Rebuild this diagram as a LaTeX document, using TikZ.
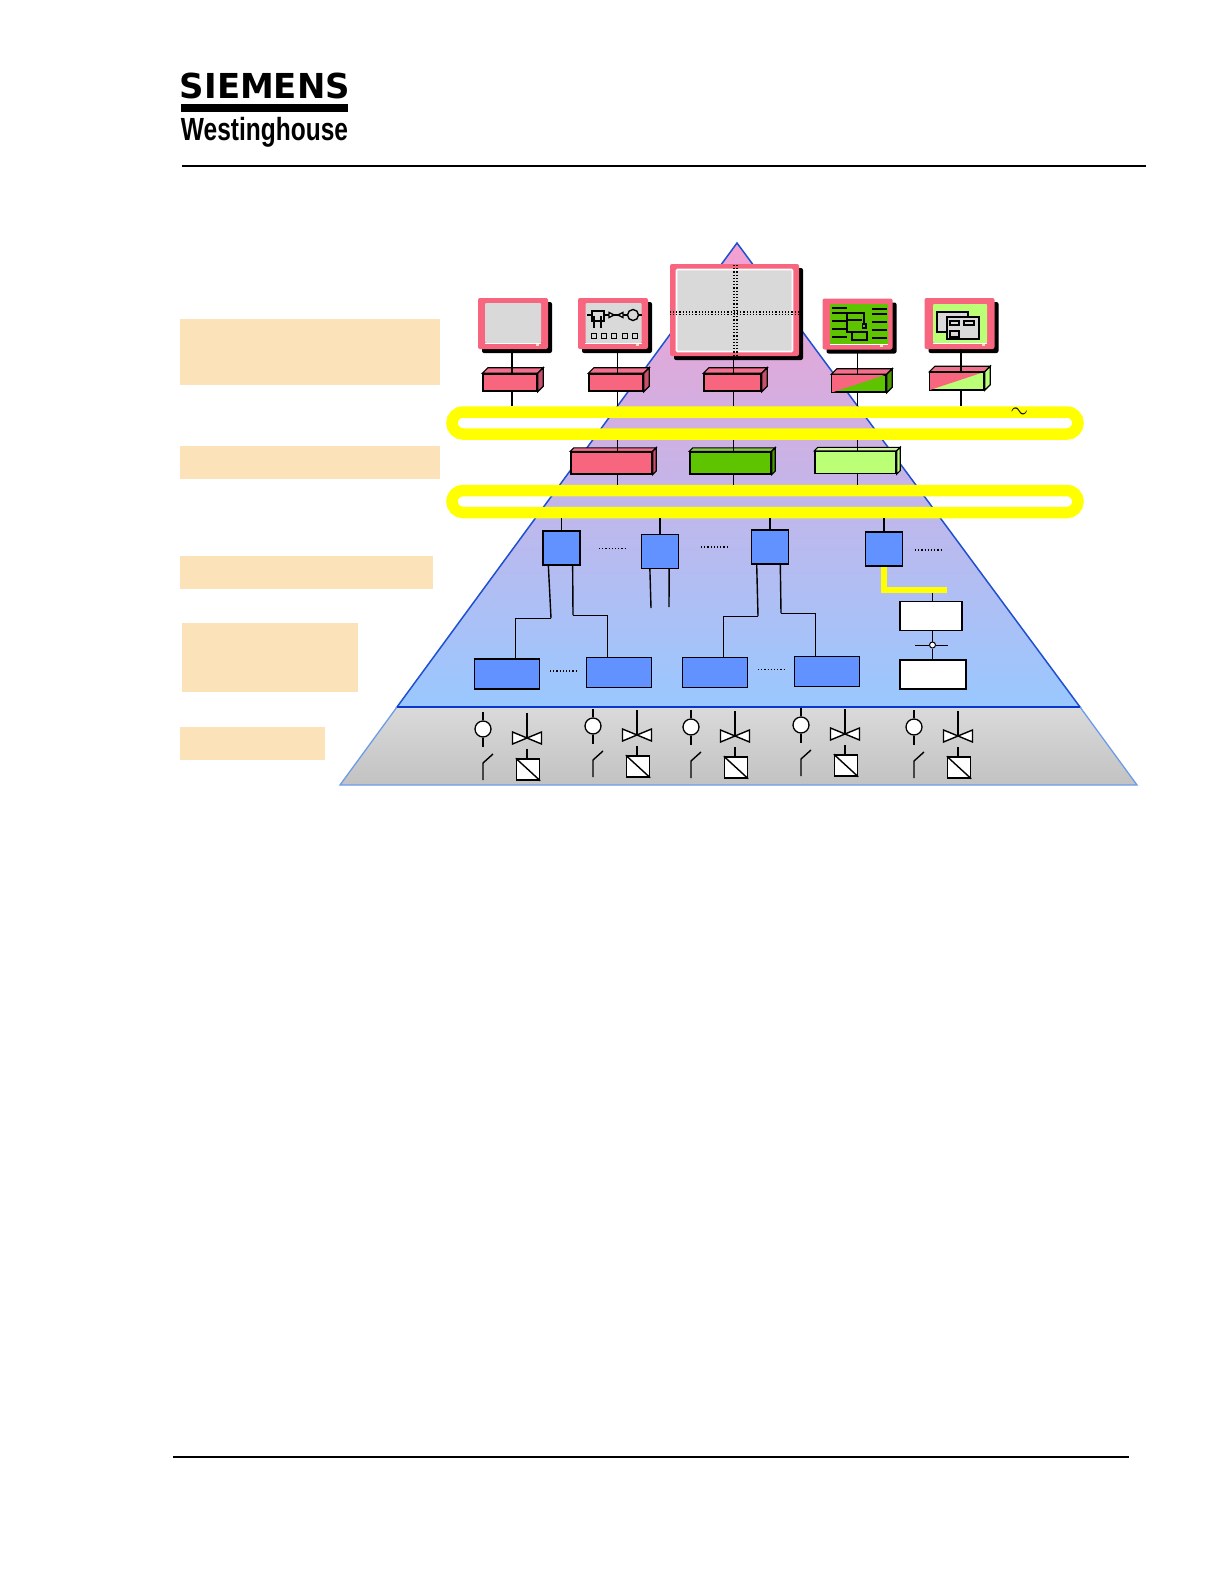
\documentclass[tikz,border=0pt]{standalone}
\usepackage{fontspec}
\setmainfont{Liberation Sans}
\newfontfamily\logofont{DejaVu Sans}
\usetikzlibrary{shadows}
\definecolor{ScreenPink}{HTML}{F8657F}
\definecolor{PinkTop}{HTML}{F2708C}
\definecolor{PinkSide}{HTML}{C8506A}
\definecolor{ScreenGray}{HTML}{D9D9D9}
\definecolor{FieldBlue}{HTML}{6192FF}
\definecolor{DarkGreen}{HTML}{5FC400}
\definecolor{GreenTop}{HTML}{86C848}
\definecolor{GreenSide}{HTML}{4A9A00}
\definecolor{PaleGreen}{HTML}{BBFF77}
\definecolor{PaleTop}{HTML}{CDF5A0}
\definecolor{Beige}{HTML}{FBE2B9}
\definecolor{BusYellow}{HTML}{FFFF00}
\definecolor{EdgeBlue}{HTML}{1F50D0}
\definecolor{BaseBlue}{HTML}{0A36CC}
\definecolor{LowEdge}{HTML}{6C9BEA}
\definecolor{PyrTop}{HTML}{F4A0D0}
\definecolor{PyrMiddle}{HTML}{C8B0E2}
\definecolor{PyrBottom}{HTML}{99C8FF}
\definecolor{LowTop}{HTML}{DADADA}
\definecolor{LowBottom}{HTML}{C2C2C2}
\tikzset{
  wire/.style={draw=black, line width=1.2pt},
  beigebox/.style={fill=Beige, inner sep=0pt, minimum width=260, minimum height=33},
  monitor/.style={fill=ScreenPink, rounded corners=2pt, inner sep=0pt, minimum width=70, minimum height=51, drop shadow={shadow xshift=4pt, shadow yshift=-4pt, fill=black, opacity=1}},
  screen/.style={fill=ScreenGray, rounded corners=1pt, inner sep=0pt, minimum width=56, minimum height=40},
  led/.style={fill=Beige, inner sep=0pt, minimum width=3, minimum height=2},
  cube/.style={draw=black, line width=1.4pt, fill=ScreenPink, inner sep=0pt, minimum width=54, minimum height=17},
  midcube/.style={draw=black, line width=1.4pt, inner sep=0pt, minimum width=81, minimum height=22},
  bluebox/.style={draw=black, line width=1.3pt, fill=FieldBlue, inner sep=0pt, minimum width=37, minimum height=34},
  lowbox/.style={draw=black, line width=1.2pt, fill=FieldBlue, inner sep=0pt, minimum width=65, minimum height=30},
  whitebox/.style={draw=black, line width=1.6pt, fill=white, inner sep=0pt, minimum height=29},
  busring/.style={draw=BusYellow, line width=11.5pt, rounded corners=11pt, inner sep=0pt, minimum width=626, minimum height=22},
  sensor/.style={circle, draw=black, line width=1.3pt, fill=white, inner sep=0pt, minimum size=16},
  actuator/.style={draw=black, line width=1.5pt, fill=white, inner sep=0pt, minimum width=23, minimum height=21},
  symbol/.style={draw=black, line width=1.4pt},
  dots/.style={draw=black, line width=1.2pt, dotted}
}
\begin{document}
\begin{tikzpicture}[x=1pt, y=-1pt]
\useasboundingbox (0,0) rectangle (1224,1584);

\node[inner sep=0pt] (siemens) at (265,85.5) {\resizebox*{170pt}{26pt}{\logofont\bfseries SIEMENS}};
\node[fill=black, inner sep=0pt, minimum width=167, minimum height=8] (logobar) at (264.5,108) {};
\node[inner sep=0pt] (westing) at (264.5,132) {\resizebox*{167pt}{30pt}{\bfseries Westinghouse}};
\draw[line width=1.6pt] (182,166) -- (1146,166);
\draw[line width=1.6pt] (173,1457) -- (1129,1457);

\node[beigebox, minimum height=66] (lev1) at (310,352) {};
\node[beigebox] (lev2) at (310,462) {};
\node[beigebox, minimum width=253] (lev3) at (306.5,572.5) {};
\node[beigebox, minimum width=176, minimum height=69] (lev4) at (270,657.5) {};
\node[beigebox, minimum width=145] (lev5) at (252.5,743) {};

\shade[top color=PyrTop, middle color=PyrMiddle, bottom color=PyrBottom, draw=EdgeBlue, line width=1.5pt] (737,243) -- (1080,707) -- (397,707) -- cycle;
\shade[top color=LowTop, bottom color=LowBottom, draw=LowEdge, line width=1.3pt] (397,707) -- (1080,707) -- (1137,785) -- (340,785) -- cycle;
\draw[draw=BaseBlue, line width=2.8pt] (397,707) -- (1080,707);

\node[monitor] (mon1) at (513,323.5) {};
\node[screen] (scr1) at (513,323) {};
\node[monitor] (mon2) at (613,323.5) {};
\node[screen] (scr2) at (613.5,323) {};
\node[monitor, minimum width=129, minimum height=92] (mon3) at (734.5,310) {};
\node[screen, draw=white, line width=1.6pt, minimum width=116, minimum height=82] (scr3) at (734.5,310.5) {};
\node[monitor] (mon4) at (857.5,324) {};
\node[screen, fill=DarkGreen, minimum width=58, minimum height=40] (scr4) at (859,324) {};
\node[monitor] (mon5) at (959.5,323.5) {};
\node[screen, fill=PaleGreen, minimum width=54, minimum height=39] (scr5) at (960,323.5) {};
\foreach \i in {1,2,4,5}{
  \draw[draw=white, line width=0.9pt] (scr\i.south west) -- (scr\i.south east);
  \node[led] (led\i) at ([xshift=-11pt, yshift=4pt]mon\i.south east) {};
}

\draw[dots, line width=1.6pt] (734,265) -- (734,355);
\draw[dots, line width=1.6pt] (737,265) -- (737,355);
\draw[dots] ([yshift=-2pt]mon3.west) -- ([yshift=-2pt]mon3.east);
\draw[dots] ([yshift=-4.5pt]mon3.west) -- ([yshift=-4.5pt]mon3.east);

\draw[symbol] (587,315) -- (642,315);
\node[draw=black, line width=1.4pt, fill=ScreenGray, inner sep=0pt, minimum width=12, minimum height=10] (valvebox) at (598,316) {};
\draw[symbol] (594,316) -- (594,328);
\draw[symbol] (601,316) -- (601,328);
\draw[symbol, fill=white] (609,312.5) -- (614,315) -- (609,317.5) -- cycle;
\draw[symbol, fill=white] (623,312.5) -- (618,315) -- (623,317.5) -- cycle;
\node[circle, draw=black, line width=1.4pt, fill=ScreenGray, inner sep=0pt, minimum size=11] (pump) at (633,315) {};
\foreach \x in {594,604,614,625,635}{
  \draw[symbol, fill=ScreenGray] (\x-2.5,333.5) rectangle (\x+2.5,338.5);
}

\foreach \y in {308,313,321,329,337}{
  \draw[line width=1.3pt] (832,\y) -- (847,\y);
  \draw[line width=1.3pt] (872,\y+1) -- (887,\y+1);
}
\draw[line width=1.3pt] (847,313) -- (864,313) -- (864,323);
\draw[line width=1.8pt] (847,320) -- (862,320);
\draw[line width=1.3pt] (847,313) -- (847,332) -- (860,332);
\draw[line width=1.3pt] (852,332) rectangle (867,340);
\draw[line width=1.3pt, fill=DarkGreen] (862.5,324) rectangle (866,328);

\draw[line width=1.3pt, fill=ScreenGray] (937,312) rectangle (968,332);
\draw[line width=1.3pt, fill=ScreenGray] (947,317) rectangle (979,339);
\draw[line width=1.5pt] (950,321) rectangle (959,325);
\draw[line width=1.5pt] (964,321) rectangle (974,325);
\draw[line width=1.5pt] (950,331) rectangle (959,337);

\node[cube] (cub1) at (510,382.5) {};
\node[cube] (cub2) at (616,382.5) {};
\node[cube, minimum width=57] (cub3) at (732.5,382.5) {};
\node[cube, fill=DarkGreen] (cub4) at (859,383.5) {};
\node[cube, fill=PaleGreen] (cub5) at (957,381) {};
\fill[ScreenPink] (cub4.north east) -- (cub4.north west) -- (cub4.south west) -- cycle;
\fill[ScreenPink] (cub5.north east) -- (cub5.north west) -- (cub5.south west) -- cycle;
\draw[line width=1.4pt] (cub4.south west) rectangle (cub4.north east);
\draw[line width=1.4pt] (cub5.south west) rectangle (cub5.north east);
\foreach \n/\top/\side in {cub1/PinkTop/PinkSide, cub2/PinkTop/PinkSide, cub3/PinkTop/PinkSide, cub4/PinkTop/GreenSide, cub5/PinkTop/PaleGreen}{
  \draw[line width=1.2pt, fill=\top] (\n.north west) -- ++(5.5,-5.5) -- ([shift={(5.5,-5.5)}]\n.north east) -- (\n.north east) -- cycle;
  \draw[line width=1.2pt, fill=\side] (\n.north east) -- ++(5.5,-5.5) -- ([shift={(5.5,-5.5)}]\n.south east) -- (\n.south east) -- cycle;
}

\node[midcube, fill=ScreenPink] (midA) at (611.5,463) {};
\node[midcube, fill=DarkGreen] (midB) at (730.5,463) {};
\node[midcube, fill=PaleGreen] (midC) at (855.5,462.5) {};
\foreach \n/\top/\side in {midA/PinkTop/PinkSide, midB/GreenTop/GreenSide, midC/PaleTop/PaleGreen}{
  \draw[line width=1.1pt, fill=\top] (\n.north west) -- ++(3.5,-3.5) -- ([shift={(3.5,-3.5)}]\n.north east) -- (\n.north east) -- cycle;
  \draw[line width=1.1pt, fill=\side] (\n.north east) -- ++(3.5,-3.5) -- ([shift={(3.5,-3.5)}]\n.south east) -- (\n.south east) -- cycle;
}

\node[busring] (ring1) at (765,423) {};
\node[busring] (ring2) at (765,501.5) {};
\node[inner sep=0pt, rotate=-15] (ac) at (1019,413) {\scalebox{2.2}{$\sim$}};

\foreach \i/\x in {1/512,2/617.5,3/733.5,4/857.5,5/961}{
  \coordinate (col\i) at (\x,0);
  \draw[wire] (col\i |- mon\i.south) -- (col\i |- cub\i.north);
  \draw[wire] (col\i |- cub\i.south) -- (col\i |- ring1.north);
}
\foreach \c/\n in {col2/midA,col3/midB,col4/midC}{
  \draw[wire] (\c |- ring1.south) -- (\c |- \n.north);
  \draw[wire] (\c |- \n.south) -- (\c |- ring2.north);
}

\node[bluebox] (ctl1) at (561.5,548) {};
\node[bluebox] (ctl2) at (660,551.5) {};
\node[bluebox, line width=1.6pt] (ctl3) at (770,547) {};
\node[bluebox] (ctl4) at (884,549) {};
\foreach \i in {1,2,3,4}{
  \draw[wire] (ctl\i.north) -- (ctl\i.north |- ring2.south);
}
\draw[dots, line width=0.9pt] (599,548) -- (626,548);
\draw[dots, line width=1.3pt] (701,547) -- (729,547);
\draw[dots] (915,550) -- (943,550);

\node[lowbox] (low1) at (507,674) {};
\node[lowbox, line width=1.6pt] (low2) at (619,672.5) {};
\node[lowbox, line width=1.6pt] (low3) at (715,672.5) {};
\node[lowbox] (low4) at (827,671.5) {};
\draw[dots] (550,671) -- (577,671);
\draw[dots, line width=0.9pt] (758,669) -- (785,669);

\coordinate (bendA) at (551,618);
\coordinate (dropA) at (515,618);
\coordinate (bendB) at (573,615);
\coordinate (dropB) at (607,615);
\coordinate (bendC) at (758,616);
\coordinate (dropC) at (723,616);
\coordinate (bendD) at (781,613);
\coordinate (dropD) at (815,613);
\coordinate (endE) at (651,608);
\coordinate (endF) at (669,607);
\draw[wire, line width=1.4pt] ([xshift=6pt]ctl1.south west) -- (bendA);
\draw[wire, line width=1pt] (bendA) -- (dropA) -- (dropA |- low1.north);
\draw[wire, line width=1.4pt] ([xshift=-8pt]ctl1.south east) -- (bendB);
\draw[wire, line width=1pt] (bendB) -- (dropB) -- (dropB |- low2.north);
\draw[wire, line width=1.4pt] ([xshift=6pt]ctl3.south west) -- (bendC);
\draw[wire, line width=1pt] (bendC) -- (dropC) -- (dropC |- low3.north);
\draw[wire, line width=1.4pt] ([xshift=-9pt]ctl3.south east) -- (bendD);
\draw[wire, line width=1pt] (bendD) -- (dropD) -- (dropD |- low4.north);
\draw[wire, line width=1.4pt] ([xshift=9pt, yshift=1pt]ctl2.south west) -- (endE);
\draw[wire, line width=1.4pt] ([xshift=-10pt, yshift=1pt]ctl2.south east) -- (endF);

\node[whitebox, minimum width=62] (opA) at (931,616) {};
\node[whitebox, minimum width=66] (opB) at (933,674.5) {};
\coordinate (feed) at (947,590);
\node[circle, draw=black, line width=1pt, fill=white, inner sep=0pt, minimum size=6] (joint) at (932.5,645) {};
\draw[wire] (joint |- feed) -- (joint |- opA.north);
\draw[wire] (joint |- opA.south) -- (joint.north);
\draw[wire] (joint.south) -- (joint |- opB.north);
\draw[wire, line width=1pt] ([xshift=-17.5pt]joint.center) -- (joint.west);
\draw[wire, line width=1pt] (joint.east) -- ([xshift=15.5pt]joint.center);
\draw[draw=BusYellow, line width=5.5pt] (ctl4.south) |- (feed);

\foreach \i/\dx/\dy in {1/0/0,2/110/-3,3/208/-2,4/318/-4,5/431/-2}{
  \begin{scope}[shift={(\dx,\dy)}]
    \node[sensor] (sens\i) at (483,729) {};
    \coordinate (stemtop\i) at (483,712);
    \coordinate (stemend\i) at (483,747);
    \draw[symbol] (stemtop\i) -- (sens\i.north);
    \draw[symbol] (sens\i.south) -- (stemend\i);
    \draw[symbol] (483,780) -- (483,763) -- (493,754);
    \coordinate (valve\i) at (527,738);
    \draw[symbol] (527,713) -- (valve\i);
    \draw[symbol, fill=white] (512.5,732) -- (541.5,744) -- (541.5,732) -- (512.5,744) -- cycle;
    \node[actuator] (act\i) at (528,769.5) {};
    \draw[symbol] (act\i.north west) -- (act\i.south east);
    \draw[symbol] (527,749) -- (527,759);
  \end{scope}
}
\end{tikzpicture}
\end{document}
